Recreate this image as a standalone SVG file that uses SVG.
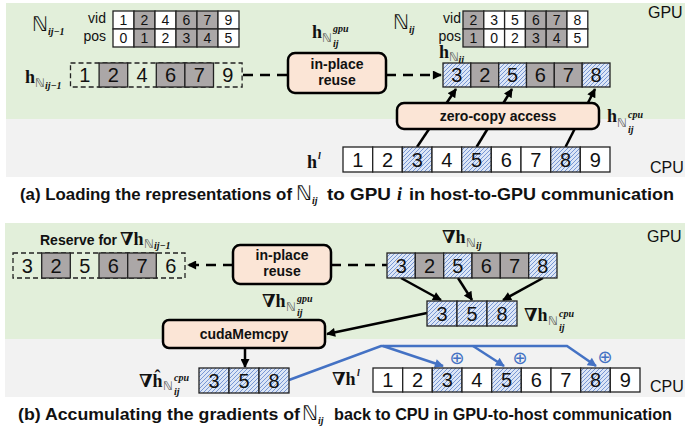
<svg xmlns="http://www.w3.org/2000/svg" width="685" height="433" viewBox="0 0 685 433">
<style>
.c{stroke:#222;stroke-width:1.3}
.w{fill:#fff}
.g{fill:#aba7a7}
.h{fill:url(#hatch)}
.dash{fill:none;stroke:#222;stroke-width:1.3;stroke-dasharray:5 3}
.n{font-family:"Liberation Sans",Arial,sans-serif;font-size:20px;text-anchor:middle;fill:#111}
.t{font-family:"Liberation Sans",Arial,sans-serif;font-size:14px;text-anchor:middle;fill:#111}
.lb{font-family:"Liberation Sans",Arial,sans-serif;font-size:14px;fill:#111}
.box{fill:#fbe5d6;stroke:#000;stroke-width:2.5}
.bt{font-family:"Liberation Sans",Arial,sans-serif;font-weight:bold;font-size:14px;text-anchor:middle;fill:#111}
.m{font-family:"Liberation Serif","DejaVu Serif",serif;font-weight:bold;font-size:18px;fill:#111}
.N{font-family:"DejaVu Sans",sans-serif;font-size:20px;fill:#111}
.bb{font-family:"DejaVu Sans",sans-serif;font-size:12px;fill:#555}
.s{font-family:"Liberation Serif","DejaVu Serif",serif;font-weight:bold;font-style:italic;font-size:10px;fill:#111}
.ar{fill:none;stroke:#000;stroke-width:2.5}
.ad{fill:none;stroke:#000;stroke-width:2.5;stroke-dasharray:10 7}
.bl{fill:none;stroke:#4472c4;stroke-width:2.5}
.cap{font-family:"Liberation Sans",Arial,sans-serif;font-weight:bold;font-size:16.5px;fill:#111}
.cpu{font-family:"Liberation Sans",Arial,sans-serif;font-size:16px;fill:#111}
.op{font-family:"DejaVu Sans",sans-serif;font-size:18px;fill:#4472c4;text-anchor:middle}
</style>
<defs>
<pattern id="hatch" patternUnits="userSpaceOnUse" width="4" height="4">
<rect width="4" height="4" fill="#dce6f6"/>
<path d="M-1,1 l2,-2 M0,4 l4,-4 M3,5 l2,-2" stroke="#6d8fd0" stroke-width="0.9"/>
</pattern>
<marker id="ah" viewBox="0 0 10 10" refX="9" refY="5" markerWidth="4" markerHeight="3.6" orient="auto"><path d="M0,0 L10,5 L0,10 z" fill="#000"/></marker>
<marker id="ahb" viewBox="0 0 10 10" refX="9" refY="5" markerWidth="4" markerHeight="3.6" orient="auto"><path d="M0,0 L10,5 L0,10 z" fill="#4472c4"/></marker>
</defs>

<!-- backgrounds -->
<rect x="6" y="3" width="679" height="116" fill="#e2efda"/>
<rect x="6" y="119" width="679" height="58" fill="#f2f2f2"/>
<rect x="5" y="223" width="680" height="116" fill="#e2efda"/>
<rect x="5" y="339" width="680" height="58" fill="#f2f2f2"/>

<text class="cpu" x="648" y="18">GPU</text>
<text class="cpu" x="650" y="173">CPU</text>
<text class="cpu" x="647" y="242">GPU</text>
<text class="cpu" x="650" y="392">CPU</text>

<!-- connectors -->
<g id="connectors">
<line class="ad" x1="243" y1="75" x2="288" y2="75"/>
<line class="ad" x1="386" y1="75" x2="441" y2="75" marker-end="url(#ah)"/>
<line class="ar" x1="417" y1="147" x2="456" y2="89" marker-end="url(#ah)"/>
<line class="ar" x1="476.5" y1="147" x2="512" y2="89" marker-end="url(#ah)"/>
<line class="ar" x1="565.5" y1="147" x2="595" y2="89" marker-end="url(#ah)"/>

<line class="ad" x1="233" y1="265" x2="188" y2="265" marker-end="url(#ah)"/>
<line class="ad" x1="331" y1="265" x2="387" y2="265"/>
<line class="ar" x1="401" y1="278" x2="441" y2="300" marker-end="url(#ah)"/>
<line class="ar" x1="458" y1="278" x2="472" y2="300" marker-end="url(#ah)"/>
<line class="ar" x1="543" y1="278" x2="503" y2="300" marker-end="url(#ah)"/>
<line class="ar" x1="427" y1="313" x2="327" y2="334" marker-end="url(#ah)"/>
<line class="ar" x1="245" y1="348" x2="245" y2="367" marker-end="url(#ah)"/>
<polyline class="bl" points="289,380 381,346 567,346 596,366" marker-end="url(#ahb)"/>
<line class="bl" x1="383" y1="346" x2="443" y2="366" marker-end="url(#ahb)"/>
<line class="bl" x1="473" y1="346" x2="504" y2="366" marker-end="url(#ahb)"/>
</g>

<!-- N_ij-1 table -->
<g id="table-prev">
<text class="N" x="32" y="31">ℕ</text>
<text class="s" x="48" y="35" font-size="12">ij−1</text>
<text class="lb" x="106" y="23" text-anchor="end">vid</text>
<text class="lb" x="106" y="41" text-anchor="end">pos</text>
<rect class="c w" x="113" y="11" width="21" height="18"/><rect class="c g" x="134" y="11" width="21" height="18"/><rect class="c w" x="155" y="11" width="21" height="18"/><rect class="c g" x="176" y="11" width="21" height="18"/><rect class="c g" x="197" y="11" width="21" height="18"/><rect class="c w" x="218" y="11" width="21" height="18"/>
<rect class="c w" x="113" y="29" width="21" height="18"/><rect class="c g" x="134" y="29" width="21" height="18"/><rect class="c w" x="155" y="29" width="21" height="18"/><rect class="c g" x="176" y="29" width="21" height="18"/><rect class="c g" x="197" y="29" width="21" height="18"/><rect class="c w" x="218" y="29" width="21" height="18"/>
<text class="t" x="123.5" y="25">1</text><text class="t" x="144.5" y="25">2</text><text class="t" x="165.5" y="25">4</text><text class="t" x="186.5" y="25">6</text><text class="t" x="207.5" y="25">7</text><text class="t" x="228.5" y="25">9</text>
<text class="t" x="123.5" y="43">0</text><text class="t" x="144.5" y="43">1</text><text class="t" x="165.5" y="43">2</text><text class="t" x="186.5" y="43">3</text><text class="t" x="207.5" y="43">4</text><text class="t" x="228.5" y="43">5</text>
</g>

<!-- h_N_ij-1 row -->
<g id="row-prev">
<text class="m" x="25" y="83">h</text><text class="bb" x="35" y="87">ℕ</text><text class="s" x="45" y="89">ij−1</text>
<rect class="dash" x="70.5" y="63" width="171.6" height="24"/>
<rect class="c g" x="99.1" y="63" width="28.6" height="24"/>
<rect class="c g" x="156.3" y="63" width="28.6" height="24"/>
<rect class="c g" x="184.9" y="63" width="28.6" height="24"/>
<text class="n" x="84.8" y="82">1</text><text class="n" x="113.4" y="82">2</text><text class="n" x="142" y="82">4</text><text class="n" x="170.6" y="82">6</text><text class="n" x="199.2" y="82">7</text><text class="n" x="227.8" y="82">9</text>
</g>

<!-- in-place reuse (a) -->
<g id="reuse-a">
<text class="m" x="312" y="38">h</text><text class="bb" x="322" y="42">ℕ</text><text class="s" x="333" y="32">gpu</text><text class="s" x="333" y="47">ij</text>
<rect class="box" x="288" y="53" width="98" height="40" rx="7"/>
<text class="bt" x="337" y="69">in-place</text>
<text class="bt" x="337" y="85">reuse</text>
</g>

<!-- N_ij table -->
<g id="table-cur">
<text class="N" x="393" y="29">ℕ</text>
<text class="s" x="409" y="33" font-size="12">ij</text>
<text class="lb" x="461" y="23" text-anchor="end">vid</text>
<text class="lb" x="461" y="41" text-anchor="end">pos</text>
<rect class="c g" x="463" y="11" width="20.8" height="18"/><rect class="c w" x="483.8" y="11" width="20.8" height="18"/><rect class="c w" x="504.6" y="11" width="20.8" height="18"/><rect class="c g" x="525.4" y="11" width="20.8" height="18"/><rect class="c g" x="546.2" y="11" width="20.8" height="18"/><rect class="c w" x="567" y="11" width="20.8" height="18"/>
<rect class="c g" x="463" y="29" width="20.8" height="18"/><rect class="c w" x="483.8" y="29" width="20.8" height="18"/><rect class="c w" x="504.6" y="29" width="20.8" height="18"/><rect class="c g" x="525.4" y="29" width="20.8" height="18"/><rect class="c g" x="546.2" y="29" width="20.8" height="18"/><rect class="c w" x="567" y="29" width="20.8" height="18"/>
<text class="t" x="473.4" y="25">2</text><text class="t" x="494.2" y="25">3</text><text class="t" x="515" y="25">5</text><text class="t" x="535.8" y="25">6</text><text class="t" x="556.6" y="25">7</text><text class="t" x="577.4" y="25">8</text>
<text class="t" x="473.4" y="43">1</text><text class="t" x="494.2" y="43">0</text><text class="t" x="515" y="43">2</text><text class="t" x="535.8" y="43">3</text><text class="t" x="556.6" y="43">4</text><text class="t" x="577.4" y="43">5</text>
</g>

<!-- h_N_ij row -->
<g id="row-cur">
<text class="m" x="439" y="58">h</text><text class="bb" x="449" y="61" font-size="10">ℕ</text><text class="s" x="458.5" y="62.5" font-size="8">ij</text>
<rect class="c h" x="443" y="63" width="27.8" height="24"/><rect class="c g" x="470.8" y="63" width="27.9" height="24"/><rect class="c h" x="498.7" y="63" width="27.8" height="24"/><rect class="c g" x="526.5" y="63" width="27.8" height="24"/><rect class="c g" x="554.3" y="63" width="27.9" height="24"/><rect class="c h" x="582.2" y="63" width="27.8" height="24"/>
<text class="n" x="456.9" y="82">3</text><text class="n" x="484.7" y="82">2</text><text class="n" x="512.6" y="82">5</text><text class="n" x="540.4" y="82">6</text><text class="n" x="568.2" y="82">7</text><text class="n" x="596.1" y="82">8</text>
</g>

<!-- zero-copy access -->
<g id="zero-copy">
<rect class="box" x="397" y="103" width="202" height="26" rx="7"/>
<text class="bt" x="498" y="121">zero-copy access</text>
<text class="m" x="607" y="122">h</text><text class="bb" x="617" y="127">ℕ</text><text class="s" x="628" y="118">cpu</text><text class="s" x="628" y="133">ij</text>
</g>

<!-- h^l row -->
<g id="row-hl">
<text class="m" x="307" y="168">h</text><text class="s" x="318" y="159" font-size="11">l</text>
<rect class="c w" x="343" y="147" width="29.7" height="25"/><rect class="c w" x="372.7" y="147" width="29.6" height="25"/><rect class="c h" x="402.3" y="147" width="29.7" height="25"/><rect class="c w" x="432" y="147" width="29.7" height="25"/><rect class="c h" x="461.7" y="147" width="29.6" height="25"/><rect class="c w" x="491.3" y="147" width="29.7" height="25"/><rect class="c w" x="521" y="147" width="29.7" height="25"/><rect class="c h" x="550.7" y="147" width="29.6" height="25"/><rect class="c w" x="580.3" y="147" width="29.7" height="25"/>
<text class="n" x="357.8" y="167">1</text><text class="n" x="387.5" y="167">2</text><text class="n" x="417.2" y="167">3</text><text class="n" x="446.8" y="167">4</text><text class="n" x="476.5" y="167">5</text><text class="n" x="506.2" y="167">6</text><text class="n" x="535.8" y="167">7</text><text class="n" x="565.5" y="167">8</text><text class="n" x="595.2" y="167">9</text>
</g>

<!-- caption a -->
<g id="caption-a">
<text class="cap" x="20" y="200" textLength="272" lengthAdjust="spacingAndGlyphs">(a) Loading the representations of</text>
<text class="N" x="296" y="200">ℕ</text>
<text class="s" x="312" y="204" font-size="12">ij</text>
<text class="cap" x="327" y="200" textLength="64" lengthAdjust="spacingAndGlyphs">to GPU</text>
<text x="397" y="200" font-family="Liberation Serif,serif" font-style="italic" font-weight="bold" font-size="18" fill="#111">i</text>
<text class="cap" x="409" y="200" textLength="265" lengthAdjust="spacingAndGlyphs">in host-to-GPU communication</text>
</g>

<!-- reserve row (b) -->
<g id="row-reserve">
<text class="lb" x="40" y="245" font-weight="bold">Reserve for</text>
<text class="m" x="120" y="245">∇h</text><text class="bb" x="144" y="248">ℕ</text><text class="s" x="154" y="249">ij−1</text>
<rect class="dash" x="13" y="253" width="172" height="25"/>
<rect class="c g" x="41.7" y="253" width="28.6" height="25"/>
<rect class="c g" x="99" y="253" width="28.7" height="25"/>
<rect class="c g" x="127.7" y="253" width="28.6" height="25"/>
<text class="n" x="27.3" y="273">3</text><text class="n" x="56" y="273">2</text><text class="n" x="84.7" y="273">5</text><text class="n" x="113.3" y="273">6</text><text class="n" x="142" y="273">7</text><text class="n" x="170.7" y="273">6</text>
</g>

<!-- in-place reuse (b) -->
<g id="reuse-b">
<rect class="box" x="233" y="245" width="98" height="39" rx="7"/>
<text class="bt" x="282" y="260">in-place</text>
<text class="bt" x="282" y="276">reuse</text>
<text class="m" x="262" y="307">∇h</text><text class="bb" x="286" y="311">ℕ</text><text class="s" x="297" y="302">gpu</text><text class="s" x="297" y="316">ij</text>
</g>

<!-- grad h_N_ij row -->
<g id="row-grad">
<text class="m" x="442" y="243">∇h</text><text class="bb" x="466" y="247">ℕ</text><text class="s" x="476" y="249">ij</text>
<rect class="c h" x="387" y="253" width="28.3" height="25"/><rect class="c g" x="415.3" y="253" width="28.4" height="25"/><rect class="c h" x="443.7" y="253" width="28.3" height="25"/><rect class="c g" x="472" y="253" width="28.3" height="25"/><rect class="c g" x="500.3" y="253" width="28.4" height="25"/><rect class="c h" x="528.7" y="253" width="28.3" height="25"/>
<text class="n" x="401.2" y="273">3</text><text class="n" x="429.5" y="273">2</text><text class="n" x="457.8" y="273">5</text><text class="n" x="486.2" y="273">6</text><text class="n" x="514.5" y="273">7</text><text class="n" x="542.8" y="273">8</text>
</g>

<!-- grad cpu small row -->
<g id="row-grad-cpu">
<rect class="c h" x="427" y="301" width="30" height="25"/><rect class="c h" x="457" y="301" width="30" height="25"/><rect class="c h" x="487" y="301" width="30" height="25"/>
<text class="n" x="442" y="321">3</text><text class="n" x="472" y="321">5</text><text class="n" x="502" y="321">8</text>
<text class="m" x="524" y="321">∇h</text><text class="bb" x="548" y="325">ℕ</text><text class="s" x="559" y="317">cpu</text><text class="s" x="559" y="331">ij</text>
</g>

<!-- cudaMemcpy -->
<g id="cudamemcpy">
<rect class="box" x="163" y="320" width="162" height="28" rx="6"/>
<text class="bt" x="244" y="339">cudaMemcpy</text>
</g>

<!-- grad hat row -->
<g id="row-grad-hat">
<text class="m" x="139" y="387">∇ĥ</text><text class="bb" x="163" y="390">ℕ</text><text class="s" x="174" y="381">cpu</text><text class="s" x="174" y="395">ij</text>
<rect class="c h" x="199" y="368" width="30" height="25"/><rect class="c h" x="229" y="368" width="30" height="25"/><rect class="c h" x="259" y="368" width="30" height="25"/>
<text class="n" x="214" y="388">3</text><text class="n" x="244" y="388">5</text><text class="n" x="274" y="388">8</text>
</g>

<!-- grad h^l row -->
<g id="row-grad-hl">
<text class="m" x="332" y="385">∇h</text><text class="s" x="357" y="376" font-size="11">l</text>
<rect class="c w" x="373" y="368" width="29.7" height="24"/><rect class="c w" x="402.7" y="368" width="29.6" height="24"/><rect class="c h" x="432.3" y="368" width="29.7" height="24"/><rect class="c w" x="462" y="368" width="29.7" height="24"/><rect class="c h" x="491.7" y="368" width="29.6" height="24"/><rect class="c w" x="521.3" y="368" width="29.7" height="24"/><rect class="c w" x="551" y="368" width="29.7" height="24"/><rect class="c h" x="580.7" y="368" width="29.6" height="24"/><rect class="c w" x="610.3" y="368" width="29.7" height="24"/>
<text class="n" x="387.8" y="387">1</text><text class="n" x="417.5" y="387">2</text><text class="n" x="447.2" y="387">3</text><text class="n" x="476.8" y="387">4</text><text class="n" x="506.5" y="387">5</text><text class="n" x="536.2" y="387">6</text><text class="n" x="565.8" y="387">7</text><text class="n" x="595.5" y="387">8</text><text class="n" x="625.2" y="387">9</text>
<text class="op" x="457" y="364">⊕</text>
<text class="op" x="520" y="364">⊕</text>
<text class="op" x="605" y="363">⊕</text>
</g>

<!-- caption b -->
<g id="caption-b">
<text class="cap" x="18" y="420" textLength="282" lengthAdjust="spacingAndGlyphs">(b) Accumulating the gradients of</text>
<text class="N" x="302" y="420">ℕ</text>
<text class="s" x="318" y="424" font-size="12">ij</text>
<text class="cap" x="334" y="420" textLength="338" lengthAdjust="spacingAndGlyphs">back to CPU in GPU-to-host communication</text>
</g>
</svg>
